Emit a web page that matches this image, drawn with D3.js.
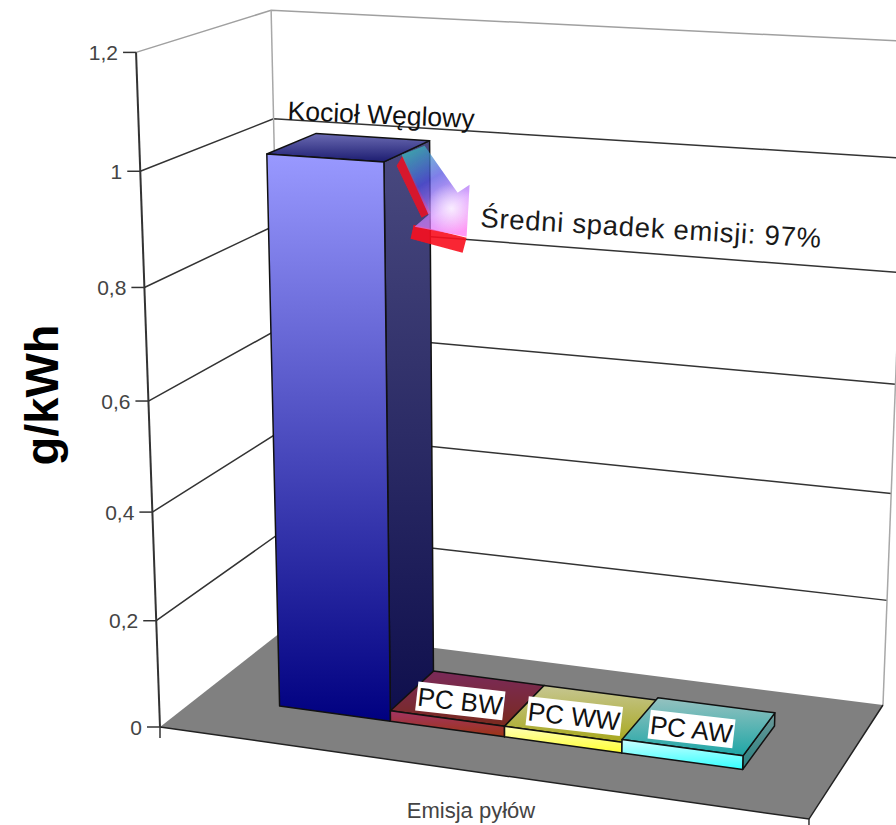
<!DOCTYPE html>
<html>
<head>
<meta charset="utf-8">
<script src="https://cdn.jsdelivr.net/npm/d3@7/dist/d3.min.js"></script>
<style>
  html, body { margin: 0; padding: 0; background: #fff; }
  svg { display: block; }
  text { font-family: "Liberation Sans", Arial, sans-serif; }
</style>
</head>
<body>
<svg id="chart" width="896" height="825"></svg>
<script>
// Emission data (g/kWh)
const seriesNames = ["Kocioł Węglowy", "PC BW", "PC WW", "PC AW"];
const seriesValues = [1.01, 0.02, 0.02, 0.025];
const valueDomain = [0, 1.2];
const categoryLabel = "Emisja pyłów";
const axisTitle = "g/kWh";
const calloutText = "Średni spadek emisji: 97%";

const svg = d3.select("#chart");
const defs = svg.append("defs");

// Camera of the 3-D scene: floor unit square (u, v) plus height t, homogeneous.
const cam = {
  a: 586.6, b: 152, c: 160,
  d: 28.9, e: -38.4, f: 727,
  g: -0.0771, h: 0.0948,
  tx: -32.8, ty: -678, tw: -0.065
};
const heightScale = d3.scaleLinear().domain(valueDomain).range([0, 1]);
const uScale = d3.scaleBand().domain(seriesNames).range([0, 1]).paddingInner(0).paddingOuter(0.73);
const vScale = d3.scaleLinear().domain([0, 1]).range([0.305, 0.695]);

function project(u, v, value) {
  const t = heightScale(value);
  const w = 1 + cam.g * u + cam.h * v + cam.tw * t;
  return [
    (cam.a * u + cam.b * v + cam.c + cam.tx * t) / w,
    (cam.d * u + cam.e * v + cam.f + cam.ty * t) / w
  ];
}
const pathOf = pts => "M" + pts.map(p => p.join(",")).join("L") + "Z";
const lineOf = pts => "M" + pts.map(p => p.join(",")).join("L");

function gradient(id, x1, y1, x2, y2, stops) {
  const g = defs.append("linearGradient").attr("id", id)
    .attr("gradientUnits", "userSpaceOnUse")
    .attr("x1", x1).attr("y1", y1).attr("x2", x2).attr("y2", y2);
  stops.forEach(([o, c]) => g.append("stop").attr("offset", o).attr("stop-color", c));
  return `url(#${id})`;
}
const twoStops = ([a, b]) => [[0, a], [1, b]];

const valueTicks = heightScale.ticks(6);
const fmt = d3.formatLocale({ decimal: ",", thousands: " ", grouping: [3], currency: ["", ""] }).format("~g");
const maxValue = valueDomain[1];

// Floor
svg.append("path")
  .attr("d", pathOf([project(0, 0, 0), project(1, 0, 0), project(1, 1, 0), project(0, 1, 0)]))
  .attr("fill", "#808080");

// Wall gridlines
svg.append("g").selectAll("path").data(valueTicks.filter(t => t > 0)).join("path")
  .attr("d", t => lineOf([project(0, 0, t), project(0, 1, t), project(1, 1, t)]))
  .attr("fill", "none")
  .attr("stroke", t => t === maxValue ? "#a0a0a0" : "#333")
  .attr("stroke-width", 1.5);

// Back wall verticals
svg.append("g").selectAll("path").data([[0, 1], [1, 1]]).join("path")
  .attr("d", ([u, v]) => lineOf([project(u, v, 0), project(u, v, maxValue)]))
  .attr("fill", "none").attr("stroke", "#a8a8a8").attr("stroke-width", 1.5);

// Floor front and right edges
svg.append("path")
  .attr("d", lineOf([project(0, 0, 0), project(1, 0, 0), project(1, 1, 0)]))
  .attr("fill", "none").attr("stroke", "#222").attr("stroke-width", 1.5);

// Value axis
const axis = svg.append("g");
axis.append("path")
  .attr("d", lineOf([project(0, 0, maxValue), project(0, 0, 0)]))
  .attr("fill", "none").attr("stroke", "#333").attr("stroke-width", 2);
const tickG = axis.selectAll("g").data(valueTicks).join("g")
  .attr("transform", t => `translate(${project(0, 0, t)})`);
tickG.append("line").attr("x1", -13).attr("x2", 0).attr("stroke", "#333").attr("stroke-width", 1.5);
tickG.append("text").attr("x", -18).attr("dy", "0.36em").attr("text-anchor", "end")
  .attr("font-size", 21).attr("fill", "#444").text(fmt);

// Category axis end ticks
axis.selectAll("line.cat").data([0, 1]).join("line").attr("class", "cat")
  .attr("x1", u => project(u, 0, 0)[0]).attr("x2", u => project(u, 0, 0)[0])
  .attr("y1", u => project(u, 0, 0)[1]).attr("y2", u => project(u, 0, 0)[1] + 11)
  .attr("stroke", "#333").attr("stroke-width", 1.5);

// Bars: colours for the front, top and side faces
const barColors = [
  { front: ["#9999ff", "#000080"], cap: ["#6b6bb3", "#1c1c70"], side: ["#4a4a80", "#0e0e4c"] },
  { front: ["#a33464", "#9c3414"], cap: ["#7a2a5a", "#7a2a1e"], side: ["#5c2040", "#5c2010"] },
  { front: ["#ffffb8", "#ffff33"], cap: ["#c6c692", "#a8a81e"], side: ["#8a8a50", "#80801a"] },
  { front: ["#ccffff", "#33ffff"], cap: ["#96c2c0", "#1ea6a6"], side: ["#6c9a9a", "#288080"] }
];

const bars = svg.append("g");
seriesNames.forEach((series, i) => {
  const u0 = uScale(series), u1 = u0 + uScale.bandwidth();
  const v0 = vScale(0), v1 = vScale(1), val = seriesValues[i];
  const fb = project(u0, v0, 0), fr = project(u1, v0, 0);
  const ft = project(u0, v0, val), frt = project(u1, v0, val);
  const bt = project(u0, v1, val), brt = project(u1, v1, val), brb = project(u1, v1, 0);
  const col = barColors[i];
  const faces = [
    { d: [frt, brt, brb, fr], fill: gradient(`side${i}`, 0, brt[1], 0, fr[1], twoStops(col.side)) },
    { d: [ft, frt, brt, bt], fill: gradient(`cap${i}`, 0, bt[1], 0, frt[1], twoStops(col.cap)) },
    { d: [ft, frt, fr, fb], fill: gradient(`front${i}`, 0, ft[1], 0, fr[1], twoStops(col.front)) }
  ];
  faces.forEach(face => {
    bars.append("path").attr("d", pathOf(face.d)).attr("fill", face.fill)
      .attr("stroke", "#111").attr("stroke-width", 1.5).attr("stroke-linejoin", "round");
  });
});

// Data labels of the low bars sit on white plates
seriesNames.slice(1).forEach((series, j) => {
  const i = j + 1;
  const c = project(uScale(series) + uScale.bandwidth() / 2, 0.5, seriesValues[i]);
  const g = svg.append("g").attr("transform", `translate(${c[0] - 8},${c[1] + 3}) rotate(6.5)`);
  const txt = g.append("text").attr("text-anchor", "middle").attr("dy", "0.36em")
    .attr("font-size", 26).attr("fill", "#111").text(series);
  const box = txt.node().getBBox();
  g.insert("rect", "text")
    .attr("x", box.x - 1).attr("y", -14.5)
    .attr("width", box.width + 2).attr("height", 29)
    .attr("fill", "#fff");
});

// Label of the tall bar
const headPos = project(uScale(seriesNames[0]) + uScale.bandwidth() / 2, 0.5, seriesValues[0]);
svg.append("g").attr("transform", `translate(${headPos[0] + 32},${headPos[1] - 33}) rotate(2.5)`)
  .append("text").attr("text-anchor", "middle").attr("dy", "0.36em")
  .attr("font-size", 26.5).attr("fill", "#111").text(seriesNames[0]);

// Reduction arrow hanging from the top back corner of the tall bar
const anchor = project(uScale(seriesNames[0]) + uScale.bandwidth(), vScale(1), seriesValues[0]);
const shift = pts => pts.map(([x, y]) => [anchor[0] + x, anchor[1] + y]);
defs.append("filter").attr("id", "soften").append("feGaussianBlur").attr("stdDeviation", 0.7);
const arrow = svg.append("g").attr("filter", "url(#soften)");
arrow.append("path")
  .attr("d", pathOf(shift([[-33, 25], [-27, 15], [1, 72], [-8, 77]])))
  .attr("fill", "#f01020").attr("fill-opacity", 0.85);
arrow.append("path")
  .attr("d", pathOf(shift([[-16, 84], [37, 97], [33, 112], [-19, 98]])))
  .attr("fill", "#f8101c").attr("fill-opacity", 0.9);

const arrowFill = gradient("arrowFill", anchor[0] - 20, anchor[1] + 8, anchor[0] + 30, anchor[1] + 92, [
  [0, "#38c4bc"], [0.38, "#4e4ee0"], [0.72, "#d080ff"], [1, "#ff70f0"]
]);
const arrowShape = shift([[-28, 14], [-5, 5], [28, 52], [40, 44], [37, 96], [-15, 86], [-1, 74]]);
arrow.append("path").attr("d", pathOf(arrowShape)).attr("fill", arrowFill).attr("fill-opacity", 0.72);

const glow = defs.append("radialGradient").attr("id", "arrowGlow")
  .attr("gradientUnits", "userSpaceOnUse")
  .attr("cx", anchor[0] + 22).attr("cy", anchor[1] + 68).attr("r", 25);
glow.append("stop").attr("offset", 0).attr("stop-color", "#fff").attr("stop-opacity", 0.8);
glow.append("stop").attr("offset", 1).attr("stop-color", "#fff").attr("stop-opacity", 0);
arrow.append("path").attr("d", pathOf(arrowShape)).attr("fill", "url(#arrowGlow)");

// Callout
svg.append("text")
  .attr("transform", "translate(480,227) rotate(3.5)")
  .attr("font-size", 27.5).attr("textLength", 341).attr("lengthAdjust", "spacing")
  .attr("fill", "#1a1a1a").text(calloutText);

// Axis titles
svg.append("text")
  .attr("transform", "translate(58,395) rotate(-90)")
  .attr("text-anchor", "middle").attr("font-size", 47).attr("font-weight", "bold")
  .attr("fill", "#000").text(axisTitle);
svg.append("text")
  .attr("x", 471).attr("y", 818).attr("text-anchor", "middle")
  .attr("font-size", 22).attr("fill", "#444").text(categoryLabel);
</script>
</body>
</html>
